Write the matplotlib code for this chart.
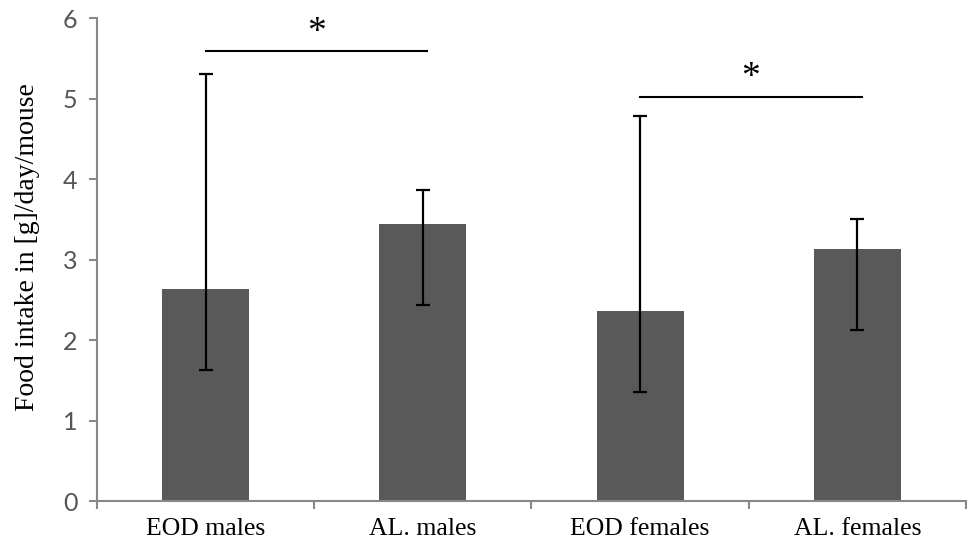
import numpy as np
import matplotlib.pyplot as plt

groups = ['EOD males', 'AL. males', 'EOD females', 'AL. females']
means = [2.63, 3.44, 2.36, 3.13]
err_low = [1.00, 1.00, 1.00, 1.00]
err_high = [2.67, 0.42, 2.42, 0.37]

# significance brackets: (start group, end group, height)
sig_pairs = [(0, 1, 5.59), (2, 3, 5.02)]

fig = plt.figure(figsize=(9.69, 5.49), dpi=100)
ax = fig.add_axes([0.1, 0.0874, 0.897, 0.8796])

x = np.arange(len(groups))
ax.bar(x, means, width=0.4, color='#595959', zorder=2)
ax.errorbar(x, means, yerr=[err_low, err_high], fmt='none', ecolor='black',
            elinewidth=1.6, capsize=5, capthick=1.6, zorder=3)

for a, b, h in sig_pairs:
    ax.plot([a, b + 0.02], [h, h], color='black', lw=1.5, clip_on=False)
    ax.text((a + b) / 2 + 0.01, h + 0.02, '*', ha='center', va='bottom',
            fontsize=27, family='Liberation Serif')

ax.set_xlim(-0.5, 3.5)
ax.set_ylim(0, 6)
ax.set_yticks(range(7))
ax.set_xticks(x)
ax.set_xticklabels(groups, family='Liberation Serif', fontsize=18.5)
ax.set_xticks(np.arange(-0.5, 4, 1), minor=True)
ax.tick_params(axis='x', which='major', length=0, pad=12)
ax.tick_params(axis='x', which='minor', length=6, color='#888888', width=1.5)
ax.tick_params(axis='y', length=6, color='#888888', width=1.5, labelsize=18,
               labelcolor='#555555', pad=8)
for lab in ax.get_yticklabels():
    lab.set_family('Lato')

for s in ['top', 'right']:
    ax.spines[s].set_visible(False)
for s in ['left', 'bottom']:
    ax.spines[s].set_color('#888888')
    ax.spines[s].set_linewidth(1.5)

ax.set_ylabel('Food intake in [g]/day/mouse', family='Liberation Serif',
              fontsize=20, labelpad=14)
ax.yaxis.set_label_coords(-0.065, 0.525)

fig.savefig('out.png', dpi=100)
